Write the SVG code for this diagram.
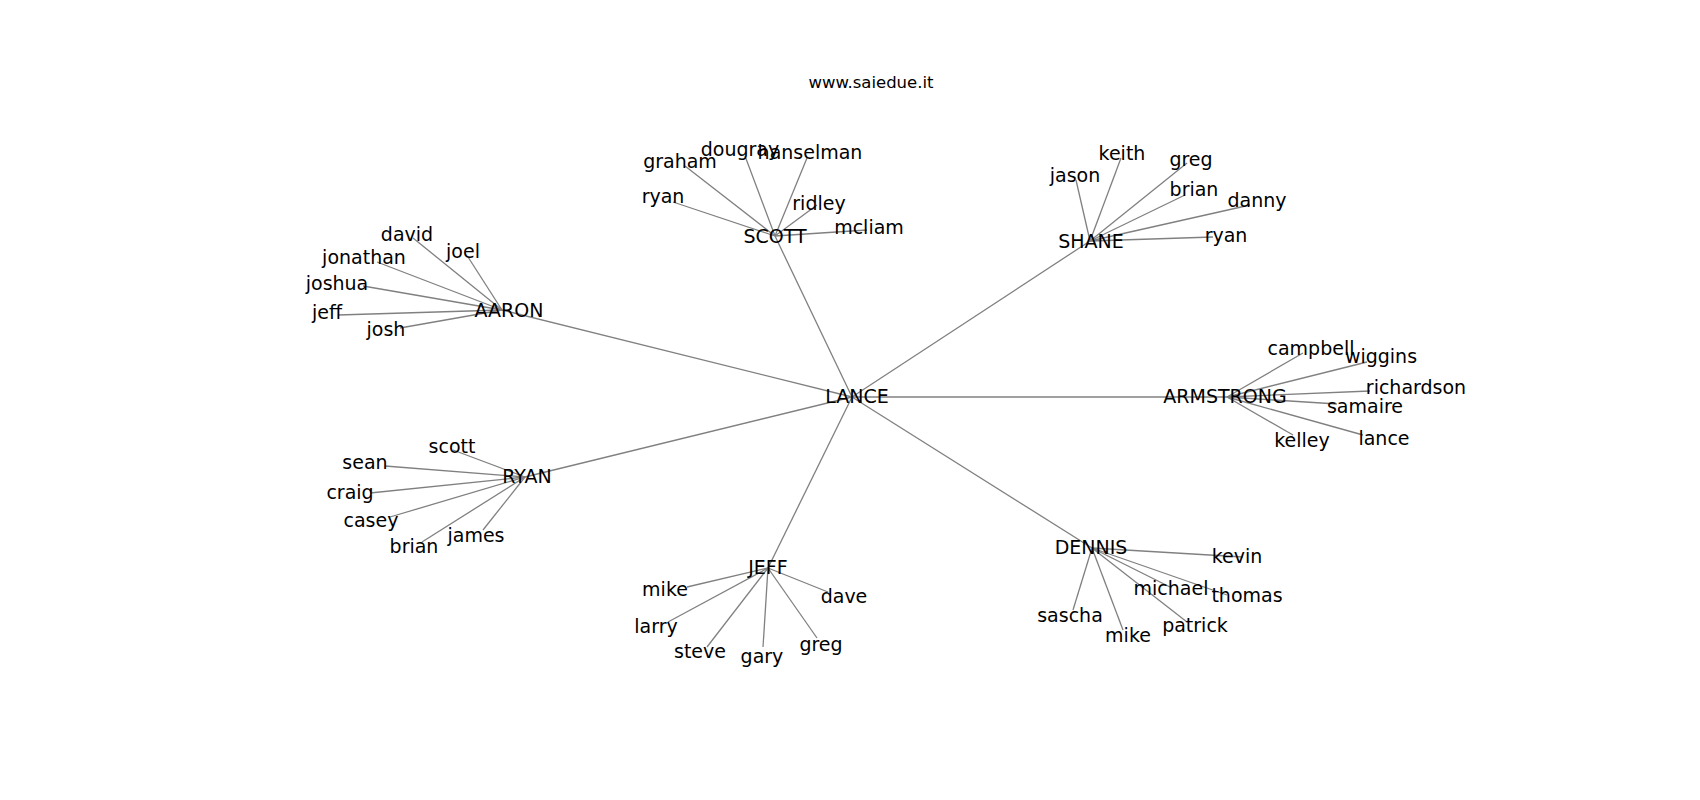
<svg xmlns="http://www.w3.org/2000/svg" width="1700" height="800" viewBox="0 0 1700 800">
<style>
text{font-family:"DejaVu Sans","Liberation Sans",sans-serif;font-size:19px;fill:#000;text-anchor:middle}
.title{font-size:16.5px}
#edges line{stroke:#808080;stroke-width:1.3;fill:none}
</style>
<rect width="1700" height="800" fill="#fff"/>
<text class="title" x="871" y="88">www.saiedue.it</text>
<g id="edges">
<line x1="852" y1="397" x2="775" y2="236"/>
<line x1="852" y1="397" x2="1090" y2="241"/>
<line x1="852" y1="397" x2="502" y2="310"/>
<line x1="852" y1="397" x2="1227" y2="397"/>
<line x1="852" y1="397" x2="525" y2="477"/>
<line x1="852" y1="397" x2="768" y2="568"/>
<line x1="852" y1="397" x2="1092" y2="548"/>
<line x1="775" y1="236" x2="685" y2="166"/>
<line x1="775" y1="236" x2="745" y2="156"/>
<line x1="775" y1="236" x2="807" y2="158"/>
<line x1="775" y1="236" x2="673" y2="202"/>
<line x1="775" y1="236" x2="817" y2="205"/>
<line x1="775" y1="236" x2="867" y2="230"/>
<line x1="1090" y1="241" x2="1076" y2="180"/>
<line x1="1090" y1="241" x2="1121" y2="158"/>
<line x1="1090" y1="241" x2="1187" y2="163"/>
<line x1="1090" y1="241" x2="1185" y2="195"/>
<line x1="1090" y1="241" x2="1250" y2="205"/>
<line x1="1090" y1="241" x2="1213" y2="237"/>
<line x1="502" y1="310" x2="413" y2="238"/>
<line x1="502" y1="310" x2="468" y2="257"/>
<line x1="502" y1="310" x2="377" y2="262"/>
<line x1="502" y1="310" x2="363" y2="286"/>
<line x1="502" y1="310" x2="338" y2="315"/>
<line x1="502" y1="310" x2="400" y2="328"/>
<line x1="1227" y1="397" x2="1303" y2="353"/>
<line x1="1227" y1="397" x2="1367" y2="362"/>
<line x1="1227" y1="397" x2="1370" y2="391"/>
<line x1="1227" y1="397" x2="1337" y2="404"/>
<line x1="1227" y1="397" x2="1293" y2="435"/>
<line x1="1227" y1="397" x2="1363" y2="435"/>
<line x1="525" y1="477" x2="453" y2="450"/>
<line x1="525" y1="477" x2="385" y2="466"/>
<line x1="525" y1="477" x2="370" y2="493"/>
<line x1="525" y1="477" x2="390" y2="517"/>
<line x1="525" y1="477" x2="422" y2="542"/>
<line x1="525" y1="477" x2="483" y2="530"/>
<line x1="768" y1="568" x2="687" y2="587"/>
<line x1="768" y1="568" x2="828" y2="592"/>
<line x1="768" y1="568" x2="668" y2="622"/>
<line x1="768" y1="568" x2="707" y2="647"/>
<line x1="768" y1="568" x2="763" y2="647"/>
<line x1="768" y1="568" x2="817" y2="638"/>
<line x1="1092" y1="548" x2="1243" y2="557"/>
<line x1="1092" y1="548" x2="1170" y2="587"/>
<line x1="1092" y1="548" x2="1227" y2="595"/>
<line x1="1092" y1="548" x2="1073" y2="610"/>
<line x1="1092" y1="548" x2="1123" y2="630"/>
<line x1="1092" y1="548" x2="1187" y2="622"/>
</g>
<g id="node-lance"><text x="857" y="403">LANCE</text></g>
<g id="node-scott"><text x="775" y="243">SCOTT</text></g>
<g id="node-shane"><text x="1091" y="248">SHANE</text></g>
<g id="node-aaron"><text x="509" y="317">AARON</text></g>
<g id="node-armstrong"><text x="1225" y="403">ARMSTRONG</text></g>
<g id="node-ryan"><text x="527" y="483">RYAN</text></g>
<g id="node-jeff"><text x="768" y="574">JEFF</text></g>
<g id="node-dennis"><text x="1091" y="554">DENNIS</text></g>
<g id="node-scott-graham"><text x="680" y="168">graham</text></g>
<g id="node-scott-dougray"><text x="740" y="156">dougray</text></g>
<g id="node-scott-hanselman"><text x="810" y="159">hanselman</text></g>
<g id="node-scott-ryan"><text x="663" y="203">ryan</text></g>
<g id="node-scott-ridley"><text x="819" y="210">ridley</text></g>
<g id="node-scott-mcliam"><text x="869" y="234">mcliam</text></g>
<g id="node-shane-jason"><text x="1075" y="182">jason</text></g>
<g id="node-shane-keith"><text x="1122" y="160">keith</text></g>
<g id="node-shane-greg"><text x="1191" y="166">greg</text></g>
<g id="node-shane-brian"><text x="1194" y="196">brian</text></g>
<g id="node-shane-danny"><text x="1257" y="207">danny</text></g>
<g id="node-shane-ryan"><text x="1226" y="242">ryan</text></g>
<g id="node-aaron-david"><text x="407" y="241">david</text></g>
<g id="node-aaron-joel"><text x="463" y="258">joel</text></g>
<g id="node-aaron-jonathan"><text x="364" y="264">jonathan</text></g>
<g id="node-aaron-joshua"><text x="337" y="290">joshua</text></g>
<g id="node-aaron-jeff"><text x="327" y="319">jeff</text></g>
<g id="node-aaron-josh"><text x="386" y="336">josh</text></g>
<g id="node-armstrong-campbell"><text x="1311" y="355">campbell</text></g>
<g id="node-armstrong-wiggins"><text x="1381" y="363">wiggins</text></g>
<g id="node-armstrong-richardson"><text x="1416" y="394">richardson</text></g>
<g id="node-armstrong-samaire"><text x="1365" y="413">samaire</text></g>
<g id="node-armstrong-kelley"><text x="1302" y="447">kelley</text></g>
<g id="node-armstrong-lance"><text x="1384" y="445">lance</text></g>
<g id="node-ryan-scott"><text x="452" y="453">scott</text></g>
<g id="node-ryan-sean"><text x="365" y="469">sean</text></g>
<g id="node-ryan-craig"><text x="350" y="499">craig</text></g>
<g id="node-ryan-casey"><text x="371" y="527">casey</text></g>
<g id="node-ryan-brian"><text x="414" y="553">brian</text></g>
<g id="node-ryan-james"><text x="476" y="542">james</text></g>
<g id="node-jeff-mike"><text x="665" y="596">mike</text></g>
<g id="node-jeff-dave"><text x="844" y="603">dave</text></g>
<g id="node-jeff-larry"><text x="656" y="633">larry</text></g>
<g id="node-jeff-steve"><text x="700" y="658">steve</text></g>
<g id="node-jeff-gary"><text x="762" y="663">gary</text></g>
<g id="node-jeff-greg"><text x="821" y="651">greg</text></g>
<g id="node-dennis-kevin"><text x="1237" y="563">kevin</text></g>
<g id="node-dennis-michael"><text x="1171" y="595">michael</text></g>
<g id="node-dennis-thomas"><text x="1247" y="602">thomas</text></g>
<g id="node-dennis-sascha"><text x="1070" y="622">sascha</text></g>
<g id="node-dennis-mike"><text x="1128" y="642">mike</text></g>
<g id="node-dennis-patrick"><text x="1195" y="632">patrick</text></g>
</svg>
